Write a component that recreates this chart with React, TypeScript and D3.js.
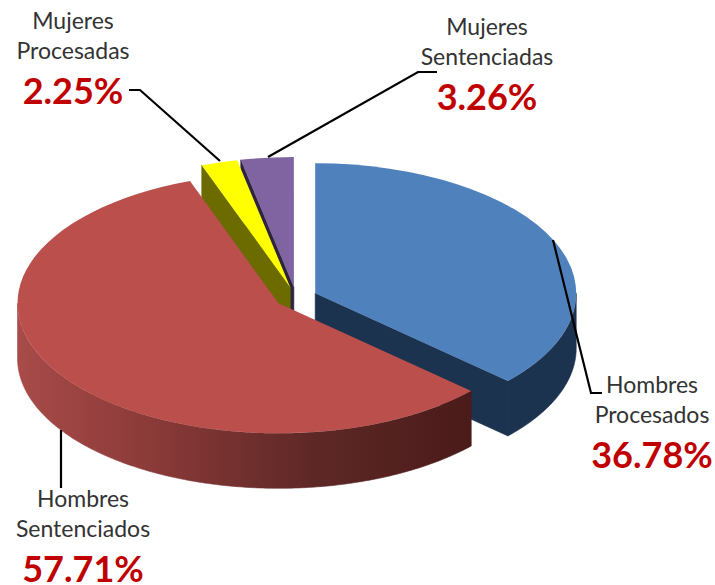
import React from 'react';
import * as d3 from 'd3';

const categories = ["Hombres Procesados", "Hombres Sentenciados", "Mujeres Procesadas", "Mujeres Sentenciadas"];
const values = [36.78, 57.71, 2.25, 3.26];
const topColors = ["#4f81bd", "#bb4f4c", "#ffff00", "#8064a2"];
const sideColors = ["#1c3350", "url(#redWall)", "#6b6b00", "#2e2440"];

// label placement, same order as categories
const labelX = [652, 83, 73, 487];
const labelY = [393, 507, 29, 35];

// leader lines
const leaders = [
  [[553, 240], [591, 393], [602, 393]],
  [[61, 430], [61, 488]],
  [[129, 90], [140, 90], [220, 161]],
  [[268, 157], [418, 72], [437, 72]],
];

const width = 715;
const height = 585;
const cx = 296;
const cy = 297.5;
const rx = 261;
const ry = 130;
const depth = 55;
const explode = 21;

const pie = d3.pie<number>().sort(null).value(d => d);
const slices = pie(values);

// top face is drawn as a flat arc and squashed in y
const arc = d3.arc<d3.PieArcDatum<number>>().innerRadius(0).outerRadius(rx);

function apex(s: d3.PieArcDatum<number>): [number, number] {
  const mid = (s.startAngle + s.endAngle) / 2;
  return [cx + explode * Math.sin(mid), cy - (explode * Math.cos(mid) * ry) / rx];
}

// outer wall, only the part of the rim facing the viewer (90deg to 270deg)
function wallPath(s: d3.PieArcDatum<number>) {
  const a0 = Math.max(s.startAngle, Math.PI / 2);
  const a1 = Math.min(s.endAngle, (3 * Math.PI) / 2);
  if (a1 <= a0) return null;
  const [ax, ay] = apex(s);
  const angles = d3.range(a0, a1, 0.01).concat([a1]);
  return d3.area<number>()
    .x(a => ax + rx * Math.sin(a))
    .y0(a => ay - ry * Math.cos(a))
    .y1(a => ay - ry * Math.cos(a) + depth)(angles);
}

// cut face on the start or end radius
function cutPath(s: d3.PieArcDatum<number>, angle: number) {
  const [ax, ay] = apex(s);
  const ex = ax + rx * Math.sin(angle);
  const ey = ay - ry * Math.cos(angle);
  return d3.line()([[ax, ay], [ex, ey], [ex, ey + depth], [ax, ay + depth]]) + "Z";
}

function Slice({ i }: { i: number }) {
  const s = slices[i];
  const [ax, ay] = apex(s);
  // cut faces which look toward the viewer
  const cutAngle = i === 0 ? s.endAngle : i === 1 ? null : s.startAngle;
  const wall = wallPath(s);
  return (
    <g>
      {cutAngle !== null && (
        <path d={cutPath(s, cutAngle)} fill={sideColors[i]} stroke={sideColors[i]} strokeWidth={0.6} />
      )}
      {wall && <path d={wall} fill={sideColors[i]} stroke={sideColors[i]} strokeWidth={0.6} />}
      <path
        d={arc(s) as string}
        fill={topColors[i]}
        transform={`translate(${ax},${ay}) scale(1,${ry / rx})`}
      />
    </g>
  );
}

function Label({ i }: { i: number }) {
  const words = categories[i].split(" ");
  const x = labelX[i];
  const y = labelY[i];
  return (
    <g textAnchor="middle">
      <text x={x} y={y} fontSize={23} fill="#333">{words[0]}</text>
      <text x={x} y={y + 30} fontSize={23} fill="#333">{words[1]}</text>
      <text x={x} y={y + 75} fontSize={36} fontWeight="bold" fill="#c00000">{values[i].toFixed(2)}%</text>
    </g>
  );
}

export default function App() {
  const line = d3.line();
  return (
    <svg
      width={width}
      height={height}
      style={{ position: "absolute", left: 0, top: 0, background: "#fff" }}
      fontFamily="Lato, sans-serif"
    >
      <defs>
        <linearGradient id="redWall" gradientUnits="userSpaceOnUse" x1={17} x2={471} y1={0} y2={0}>
          <stop offset="0" stopColor="#a84b49" />
          <stop offset="0.3" stopColor="#8a3a38" />
          <stop offset="0.65" stopColor="#5e2826" />
          <stop offset="1" stopColor="#4a1b19" />
        </linearGradient>
      </defs>
      <Slice i={3} />
      <Slice i={2} />
      <Slice i={0} />
      <Slice i={1} />
      {leaders.map((pts, i) => (
        <path key={i} d={line(pts as [number, number][]) as string} fill="none" stroke="#000" strokeWidth={2.2} />
      ))}
      {categories.map((_, i) => <Label key={i} i={i} />)}
    </svg>
  );
}
